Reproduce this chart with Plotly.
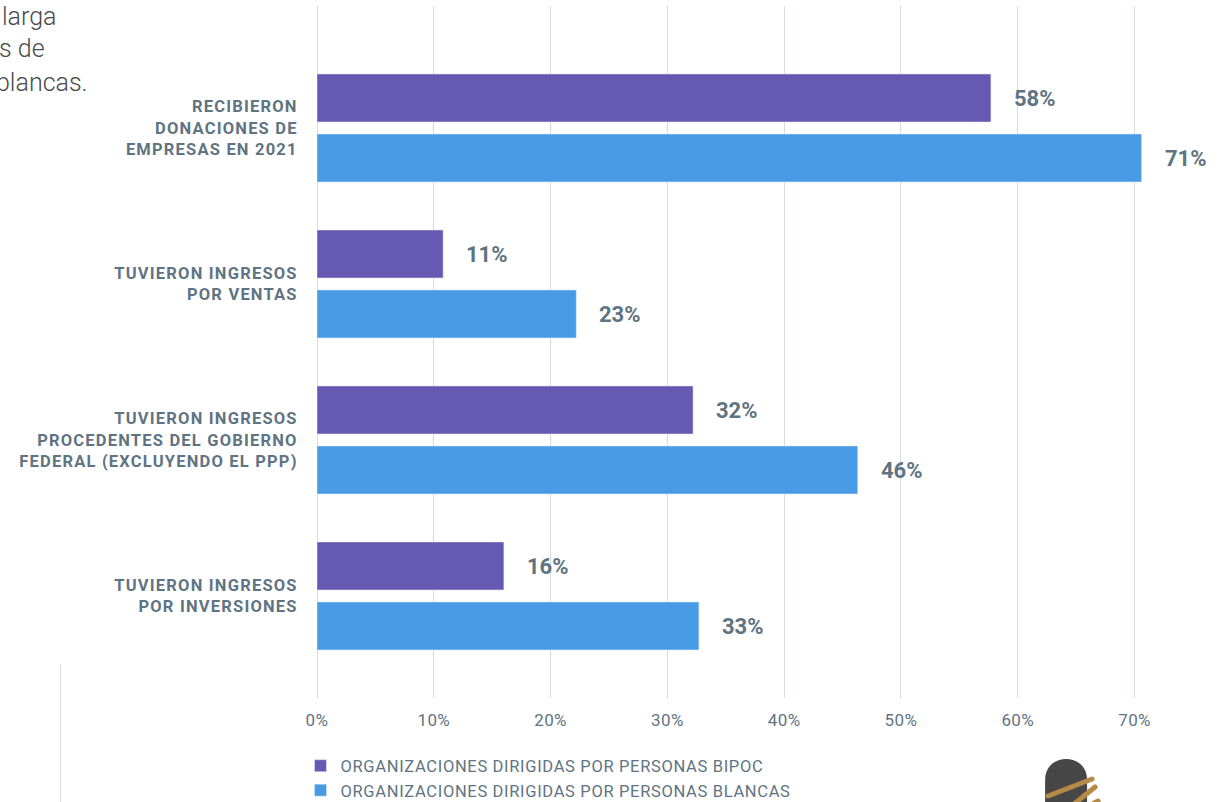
import plotly.graph_objects as go

categories = ["RECIBIERON<br>DONACIONES DE<br>EMPRESAS EN 2021",
              "TUVIERON INGRESOS<br>POR VENTAS",
              "TUVIERON INGRESOS<br>PROCEDENTES DEL GOBIERNO<br>FEDERAL (EXCLUYENDO EL PPP)",
              "TUVIERON INGRESOS<br>POR INVERSIONES"]
bipoc_values = [57.7, 10.8, 32.2, 16.0]
white_values = [70.6, 22.2, 46.3, 32.7]
bipoc_labels = ["58%", "11%", "32%", "16%"]
white_labels = ["71%", "23%", "46%", "33%"]
bipoc_name = "ORGANIZACIONES DIRIGIDAS POR PERSONAS BIPOC"
white_name = "ORGANIZACIONES DIRIGIDAS POR PERSONAS BLANCAS"
x_ticks = [0, 10, 20, 30, 40, 50, 60, 70]
x_ticklabels = ["0%", "10%", "20%", "30%", "40%", "50%", "60%", "70%"]
intro_lines = ["larga", "s de", "blancas."]

W, H = 1222, 802
L, R, T, B = 316.5, 0, 6, 104
PURPLE, BLUE, SLATE, GRID = "#6559B3", "#499BE6", "#5F7482", "#D6DBDE"
FONT = "Roboto"

def px(x): return (x - L) / (W - L - R)
def py(y): return 1 - (y - T) / (H - T - B)

fig = go.Figure()
fig.add_bar(y=categories, x=bipoc_values, name=bipoc_name, orientation="h",
            marker_color=PURPLE, hoverinfo="x+y")
fig.add_bar(y=categories, x=white_values, name=white_name, orientation="h",
            marker_color=BLUE, hoverinfo="x+y")

annotations = []
for vals, labs, off in ((bipoc_values, bipoc_labels, -30), (white_values, white_labels, 30)):
    for c, v, t in zip(categories, vals, labs):
        annotations.append(dict(x=v, y=c, xref="x", yref="y", text=f"<b>{t}</b>", showarrow=False,
                                xanchor="left", xshift=21, yshift=-off - 1,
                                font=dict(family=FONT, size=22, color=SLATE)))
for line, right, yc in zip(intro_lines, (58, 46, 89), (16, 49, 83)):
    annotations.append(dict(x=px(right), y=py(yc), xref="paper", yref="paper", text=line, showarrow=False,
                            xanchor="right", yanchor="middle",
                            font=dict(family="Roboto", size=25, color="#4A4A4A", weight=300)))

shapes = [
    dict(type="line", xref="paper", yref="paper", x0=px(60), x1=px(60), y0=py(664), y1=py(803),
         line=dict(color=GRID, width=1)),
    dict(type="path", xref="paper", yref="paper", fillcolor="#474747", line_width=0,
         path=f"M{px(1045)},{py(810)} L{px(1045)},{py(780)} "
              f"C{px(1045)},{py(752)} {px(1087)},{py(752)} {px(1087)},{py(780)} "
              f"L{px(1087)},{py(810)} Z"),
]
for (x0, y0, x1, y1) in ((1048, 796, 1092, 779), (1074, 804, 1095, 787), (1094, 803, 1098, 801)):
    shapes.append(dict(type="line", xref="paper", yref="paper", x0=px(x0), y0=py(y0), x1=px(x1), y1=py(y1),
                       line=dict(color="#B58A45", width=5)))

fig.update_layout(
    width=W, height=H, margin=dict(l=L, r=R, t=T, b=B, pad=0, autoexpand=False),
    paper_bgcolor="white", plot_bgcolor="white",
    barmode="group", bargap=0.2308, bargroupgap=0.2,
    annotations=annotations, shapes=shapes,
    legend=dict(orientation="v", x=px(300), xanchor="left", y=py(748.5), yanchor="top",
                traceorder="normal", itemclick=False, itemdoubleclick=False,
                font=dict(family=FONT, size=16.5, color=SLATE), bgcolor="rgba(0,0,0,0)"),
    xaxis=dict(range=[0, (W - L - R) / 11.686], tickvals=x_ticks, ticktext=x_ticklabels,
               showgrid=True, gridcolor=GRID, gridwidth=1, zeroline=True, zerolinecolor=GRID, zerolinewidth=1,
               ticks="outside", ticklen=7, tickcolor="rgba(0,0,0,0)",
               tickfont=dict(family=FONT, size=17, color=SLATE)),
    yaxis=dict(type="category", categoryorder="array", categoryarray=categories,
               range=[3.654, -0.782], showgrid=False, zeroline=False,
               ticks="outside", ticklen=15, tickcolor="rgba(0,0,0,0)",
               tickfont=dict(family=FONT, size=16.5, color=SLATE, weight="bold")),
)
css = (".legendtext{letter-spacing:.67px}"
       ".legend,.legend .scrollbox{clip-path:none !important}"
       ".ytick text{letter-spacing:1.2px}"
       ".xtick text{letter-spacing:.4px}"
       ".shapelayer path{stroke-linecap:round}")
post = ("document.body.style.margin='0';document.body.style.overflow='hidden';"
        "var s=document.createElement('style');s.textContent=%r;document.head.appendChild(s);" % css)
fig.write_html("out.html", post_script=post, config={"displayModeBar": False})
